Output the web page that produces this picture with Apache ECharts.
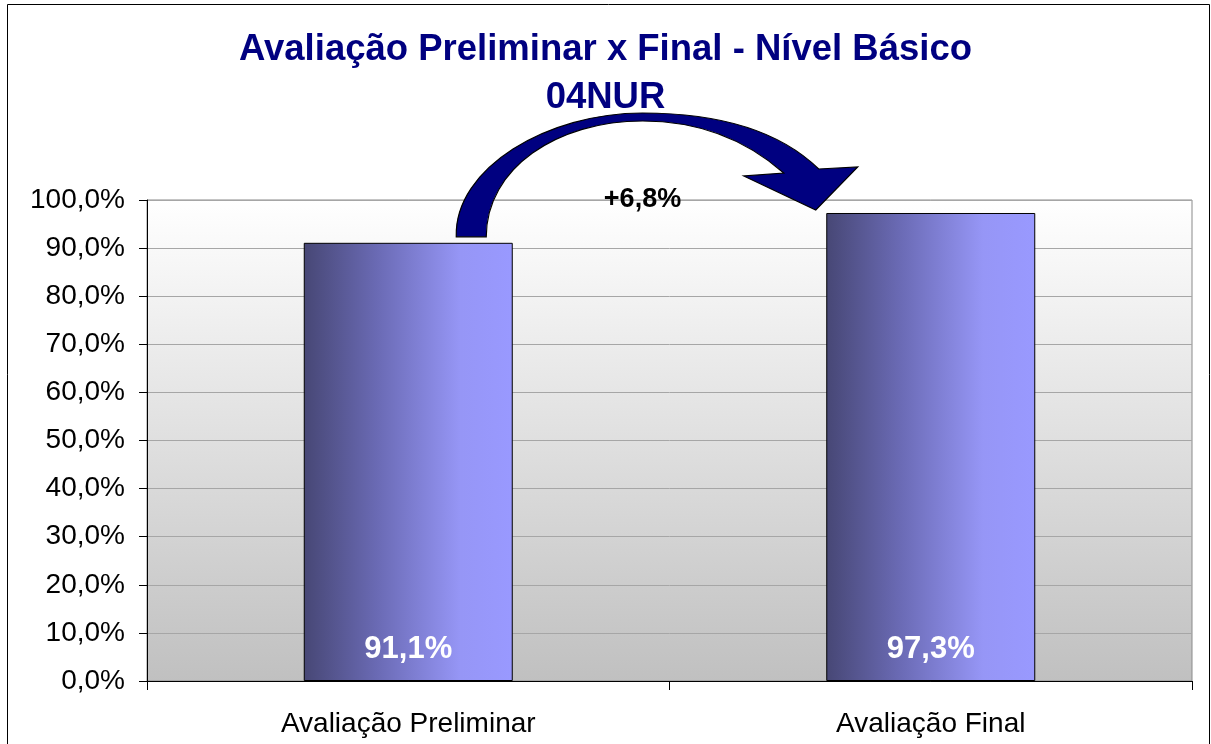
<!DOCTYPE html>
<html>
<head>
<meta charset="utf-8">
<script src="https://cdn.jsdelivr.net/npm/echarts@6/dist/echarts.min.js"></script>
<style>
  html, body { margin: 0; padding: 0; background: #ffffff; }
  #chart { width: 1211px; height: 744px; }
</style>
</head>
<body>
<div id="chart"></div>
<script>
// Evaluation results, in percent
const categories = ['Avaliação Preliminar', 'Avaliação Final'];
const scores = [91.1, 97.3];
const yTicks = { min: 0, max: 100, step: 10 };
const titleLines = ['Avaliação Preliminar x Final - Nível Básico', '04NUR'];

const fontFamily = '"Liberation Sans", Arial, sans-serif';
const fmtPct = (v) => v.toFixed(1).replace('.', ',') + '%';

// relative growth from the first to the second evaluation
const growth = (scores[1] / scores[0] - 1) * 100;
const growthLabel = '+' + fmtPct(growth);

const chart = echarts.init(document.getElementById('chart'), null, { renderer: 'canvas' });

const barGradient = new echarts.graphic.LinearGradient(0, 0, 1, 0, [
  { offset: 0, color: '#474775' },
  { offset: 0.35, color: '#6a6ab4' },
  { offset: 0.75, color: '#9696f6' },
  { offset: 1, color: '#9999ff' }
]);

// Curved arrow between the two bar tops plus the growth label
function renderArrow(params, api) {
  const p1 = api.coord([0, scores[0]]);
  const p2 = api.coord([1, scores[1]]);
  const topY = api.coord([0, yTicks.max])[1];
  const crestX = (p1[0] + p2[0]) / 2 - 27;

  const sx0 = p1[0] + 48, sx1 = p1[0] + 78, sy = p1[1] - 6;   // shaft base
  const peakY = topY - 87;                                      // shaft crest
  const tip = [p2[0] - 115, p2[1] - 3];                         // arrow point
  const wingL = [tip[0] - 72, tip[1] - 34];
  const wingR = [tip[0] + 42, tip[1] - 43];
  const joinO = [tip[0] + 3, tip[1] - 41];
  const joinI = [tip[0] - 32, tip[1] - 37];

  const pathData = [
    'M', sx0, sy,
    'C', sx0 - 2, peakY + 55, crestX - 95, peakY, crestX, peakY,
    'C', crestX + 85, peakY, joinO[0] - 35, peakY + 22, joinO[0], joinO[1],
    'L', wingR[0], wingR[1],
    'L', tip[0], tip[1],
    'L', wingL[0], wingL[1],
    'L', joinI[0], joinI[1],
    'C', joinI[0] - 32, peakY + 32, crestX + 65, peakY + 8, crestX, peakY + 8,
    'C', crestX - 85, peakY + 8, sx1, peakY + 55, sx1, sy,
    'Z'
  ].join(' ');

  return {
    type: 'group',
    children: [
      {
        type: 'path',
        shape: { pathData },
        style: { fill: '#000080', stroke: '#000000', lineWidth: 1.2 }
      },
      {
        type: 'text',
        x: crestX,
        y: topY,
        style: {
          text: growthLabel,
          font: 'bold 27px ' + fontFamily,
          fill: '#000000',
          align: 'center',
          verticalAlign: 'middle'
        }
      }
    ]
  };
}

const option = {
  animation: false,
  backgroundColor: '#ffffff',
  title: [
    {
      text: titleLines[0],
      left: 'center',
      top: 26,
      textStyle: { fontFamily, fontSize: 36.5, fontWeight: 'bold', color: '#000080' }
    },
    {
      text: titleLines[1],
      left: 'center',
      top: 74,
      textStyle: { fontFamily, fontSize: 36.5, fontWeight: 'bold', color: '#000080' }
    }
  ],
  grid: {
    left: 147,
    right: 19,
    top: 200,
    bottom: 63,
    show: true,
    borderColor: '#8a8a8a',
    borderWidth: 1,
    backgroundColor: new echarts.graphic.LinearGradient(0, 0, 0, 1, [
      { offset: 0, color: '#ffffff' },
      { offset: 1, color: '#c0c0c0' }
    ])
  },
  xAxis: {
    type: 'category',
    data: categories,
    boundaryGap: true,
    axisLine: { show: true, lineStyle: { color: '#000000', width: 1 } },
    axisTick: { show: true, length: 9, alignWithLabel: false, lineStyle: { color: '#000000' } },
    axisLabel: { fontFamily, fontSize: 28, color: '#000000', margin: 29 },
    splitLine: { show: false }
  },
  yAxis: {
    type: 'value',
    min: yTicks.min,
    max: yTicks.max,
    interval: yTicks.step,
    axisLine: { show: true, lineStyle: { color: '#000000', width: 1 } },
    axisTick: { show: true, length: 8, inside: false, lineStyle: { color: '#000000' } },
    axisLabel: { fontFamily, fontSize: 28, color: '#000000', margin: 22, formatter: fmtPct },
    splitLine: { show: true, lineStyle: { color: '#a6a6a6', width: 1 } }
  },
  series: [
    {
      type: 'bar',
      data: scores,
      barWidth: '40%',
      itemStyle: { color: barGradient, borderColor: '#000000', borderWidth: 1 },
      label: {
        show: true,
        position: 'insideBottom',
        distance: 16,
        formatter: (p) => fmtPct(p.value),
        fontFamily,
        fontSize: 31,
        fontWeight: 'bold',
        color: '#ffffff'
      }
    },
    {
      type: 'custom',
      silent: true,
      clip: false,
      z: 5,
      data: [[0, 0]],
      renderItem: renderArrow
    }
  ],
  graphic: [
    {
      type: 'rect',
      silent: true,
      shape: { x: 7.5, y: 4.5, width: 1202, height: 760 },
      style: { fill: 'none', stroke: '#000000', lineWidth: 1 },
      z: 100
    }
  ]
};

chart.setOption(option);
</script>
</body>
</html>
